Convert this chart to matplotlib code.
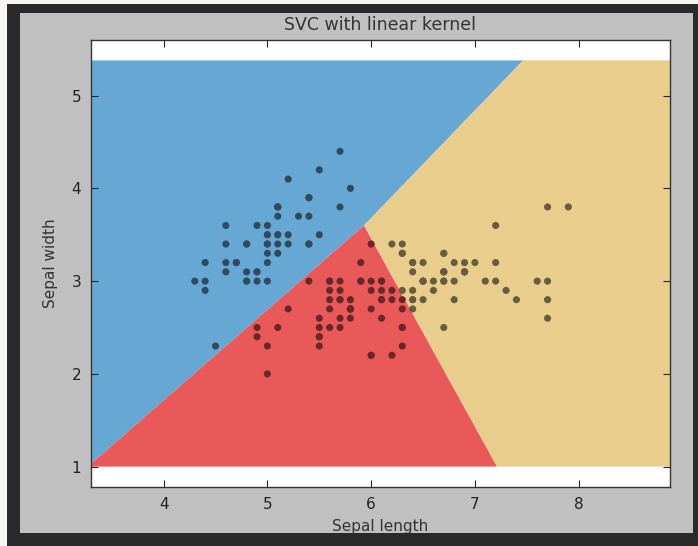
import numpy as np
import matplotlib
matplotlib.use("Agg")
import matplotlib.pyplot as plt
from matplotlib.colors import to_rgb
from matplotlib.patches import Rectangle

# Iris: sepal length / sepal width
sepal_length = [
    5.1, 4.9, 4.7, 4.6, 5.0, 5.4, 4.6, 5.0, 4.4, 4.9, 5.4, 4.8, 4.8, 4.3, 5.8, 5.7, 5.4, 5.1, 5.7, 5.1,
    5.4, 5.1, 4.6, 5.1, 4.8, 5.0, 5.0, 5.2, 5.2, 4.7, 4.8, 5.4, 5.2, 5.5, 4.9, 5.0, 5.5, 4.9, 4.4, 5.1,
    5.0, 4.5, 4.4, 5.0, 5.1, 4.8, 5.1, 4.6, 5.3, 5.0,
    7.0, 6.4, 6.9, 5.5, 6.5, 5.7, 6.3, 4.9, 6.6, 5.2, 5.0, 5.9, 6.0, 6.1, 5.6, 6.7, 5.6, 5.8, 6.2, 5.6,
    5.9, 6.1, 6.3, 6.1, 6.4, 6.6, 6.8, 6.7, 6.0, 5.7, 5.5, 5.5, 5.8, 6.0, 5.4, 6.0, 6.7, 6.3, 5.6, 5.5,
    5.5, 6.1, 5.8, 5.0, 5.6, 5.7, 5.7, 6.2, 5.1, 5.7,
    6.3, 5.8, 7.1, 6.3, 6.5, 7.6, 4.9, 7.3, 6.7, 7.2, 6.5, 6.4, 6.8, 5.7, 5.8, 6.4, 6.5, 7.7, 7.7, 6.0,
    6.9, 5.6, 7.7, 6.3, 6.7, 7.2, 6.2, 6.1, 6.4, 7.2, 7.4, 7.9, 6.4, 6.3, 6.1, 7.7, 6.3, 6.4, 6.0, 6.9,
    6.7, 6.9, 5.8, 6.8, 6.7, 6.7, 6.3, 6.5, 6.2, 5.9,
]
sepal_width = [
    3.5, 3.0, 3.2, 3.1, 3.6, 3.9, 3.4, 3.4, 2.9, 3.1, 3.7, 3.4, 3.0, 3.0, 4.0, 4.4, 3.9, 3.5, 3.8, 3.8,
    3.4, 3.7, 3.6, 3.3, 3.4, 3.0, 3.4, 3.5, 3.4, 3.2, 3.1, 3.4, 4.1, 4.2, 3.1, 3.2, 3.5, 3.6, 3.0, 3.4,
    3.5, 2.3, 3.2, 3.5, 3.8, 3.0, 3.8, 3.2, 3.7, 3.3,
    3.2, 3.2, 3.1, 2.3, 2.8, 2.8, 3.3, 2.4, 2.9, 2.7, 2.0, 3.0, 2.2, 2.9, 2.9, 3.1, 3.0, 2.7, 2.2, 2.5,
    3.2, 2.8, 2.5, 2.8, 2.9, 3.0, 2.8, 3.0, 2.9, 2.6, 2.4, 2.4, 2.7, 2.7, 3.0, 3.4, 3.1, 2.3, 3.0, 2.5,
    2.6, 3.0, 2.6, 2.3, 2.7, 3.0, 2.9, 2.9, 2.5, 2.8,
    3.3, 2.7, 3.0, 2.9, 3.0, 3.0, 2.5, 2.9, 2.5, 3.6, 3.2, 2.7, 3.0, 2.5, 2.8, 3.2, 3.0, 3.8, 2.6, 2.2,
    3.2, 2.8, 2.8, 2.7, 3.3, 3.2, 2.8, 3.0, 2.8, 3.0, 2.8, 3.8, 2.8, 2.8, 2.6, 3.0, 3.4, 3.1, 3.0, 3.1,
    3.1, 3.1, 2.7, 3.2, 3.3, 3.0, 2.5, 3.0, 3.4, 3.0,
]

# Linear decision functions: f = wx*x + wy*y + b
class_names = ["setosa", "versicolor", "virginica"]
coef_x = [0.0, 0.977, 1.0934]
coef_y = [0.0, -1.0, -0.9426]
intercepts = [0.0, -2.194, -3.091]
region_colors = ["#66a7d3", "#ea5959", "#e8cd8c"]

title = "SVC with linear kernel"
x_label = "Sepal length"
y_label = "Sepal width"
x_ticks = [4, 5, 6, 7, 8]
y_ticks = [1, 2, 3, 4, 5]

W, H, DPI = 698, 546, 100
fig = plt.figure(figsize=(W / DPI, H / DPI), dpi=DPI)
fig.patch.set_facecolor("#2a2a2a")
# light strips on the far left / top and the gray figure panel
light = "#f7f6f2"
fig.patches.append(Rectangle((0, 0), 7 / W, 1, transform=fig.transFigure,
                             facecolor=light, edgecolor="none", zorder=-2))
fig.patches.append(Rectangle((0, (H - 4) / H), 1, 4 / H, transform=fig.transFigure,
                             facecolor=light, edgecolor="none", zorder=-2))
fig.patches.append(Rectangle((20 / W, (H - 533) / H), (693 - 20) / W, (533 - 13) / H,
                             transform=fig.transFigure, facecolor="#c0c0c0",
                             edgecolor="none", zorder=-1))

ax = fig.add_axes([91 / W, (H - 487) / H, (670 - 91) / W, (487 - 40) / H])
ax.set_facecolor("white")

x = np.array(sepal_length)
y = np.array(sepal_width)
h = 0.02
x_min, x_max = x.min() - 1, x.max() + 1
y_min, y_max = y.min() - 1, y.max() + 1
x_hi = np.arange(x_min, x_max, h).max()
y_hi = np.arange(y_min, y_max, h).max()
fine = 0.004
xx, yy = np.meshgrid(np.linspace(x_min, x_hi, int((x_hi - x_min) / fine) + 1),
                     np.linspace(y_min, y_hi, int((y_hi - y_min) / fine) + 1))


def decide(px, py):
    scores = np.stack([cx * px + cy * py + b for cx, cy, b in zip(coef_x, coef_y, intercepts)])
    return scores.argmax(axis=0)


Z = decide(xx, yy)
ax.contourf(xx, yy, Z, levels=[-0.5, 0.5, 1.5, 2.5], colors=region_colors, antialiased=True)

# points: black at ~55% over the region colour beneath each point
shade = 0.45
reg = decide(x, y)
pt_colors = [tuple(c * shade for c in to_rgb(region_colors[r])) for r in reg]
ax.scatter(x, y, s=26, c=pt_colors, edgecolors="none", zorder=3)

ax.set_xlim(x_min, x_hi)
ax.set_ylim(0.78, 5.6)
ax.set_xticks(x_ticks)
ax.set_yticks(y_ticks)
ax.tick_params(direction="in", top=True, right=True, length=5, width=0.8,
               labelsize=11, pad=7, colors="#222222")
for s in ax.spines.values():
    s.set_color("#333333")
    s.set_linewidth(1.0)

ax.set_title(title, fontsize=12.5, color="#333333", pad=7)
ax.set_xlabel(x_label, fontsize=11, color="#333333", labelpad=5)
ax.set_ylabel(y_label, fontsize=11, color="#333333", labelpad=10)

fig.savefig("out.png", dpi=DPI, facecolor=fig.get_facecolor())
